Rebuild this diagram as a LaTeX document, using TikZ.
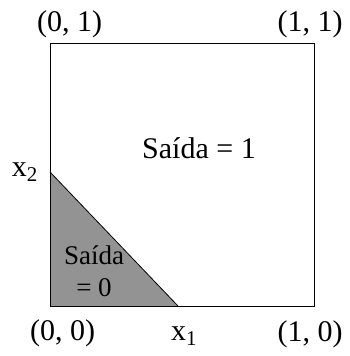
\documentclass[tikz,border=0pt]{standalone}
\usepackage{fontspec}
\setmainfont{Liberation Serif}
\usetikzlibrary{positioning}

\begin{document}
\begin{tikzpicture}[x=1pt, y=-1pt,
    etichetta/.style={font=\fontsize{30}{34}\selectfont, inner sep=0pt},
    piccola/.style={font=\fontsize{27}{32}\selectfont, inner sep=0pt, align=center}]

    \useasboundingbox (0,0) rectangle (350,356);

    % vertici del quadrato
    \coordinate (O) at (50,306);
    \coordinate (A) at (314,306);
    \coordinate (B) at (314,43);
    \coordinate (C) at (50,43);

    % intercette
    \coordinate (X1) at (178,306);
    \coordinate (X2) at (50,172);

    % regione grigia
    \fill[gray!85] (O) -- (X1) -- (X2) -- cycle;
    \draw[line width=0.8pt] (X1) -- (X2);

    % quadrato
    \draw[line width=0.8pt] (O) rectangle (B);

    % etichette dei vertici
    \node[etichetta] (lc) at (69.5,24) {(0, 1)};
    \node[etichetta] (lb) at (310,24) {(1, 1)};
    \node[etichetta] (lo) at (62.5,333) {(0, 0)};
    \node[etichetta] (la) at (310,334) {(1, 0)};

    % assi
    \node[etichetta] (lx1) at (184,336) {x\textsubscript{1}};
    \node[etichetta] (lx2) at (25,172) {x\textsubscript{2}};

    % uscite
    \node[etichetta] (s1) at (199,148) {Saída = 1};
    \node[piccola] (s0) at (94,271) {Saída\\= 0};

\end{tikzpicture}
\end{document}
